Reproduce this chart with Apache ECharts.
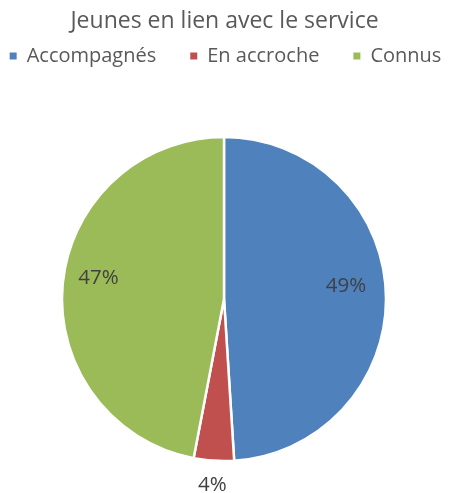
<!DOCTYPE html>
<html>
<head>
<meta charset="utf-8">
<script src="https://cdn.jsdelivr.net/npm/echarts@6/dist/echarts.min.js"></script>
<style>
  html, body { margin: 0; padding: 0; background: #fff; }
  #chart { width: 449px; height: 493px; }
</style>
</head>
<body>
<div id="chart"></div>
<script>
'use strict';

// chart data
let categories = ['Accompagnés', 'En accroche', 'Connus'];
let values = [49, 4, 47];
let colors = ['#4F81BD', '#C0504D', '#9BBB59'];

let fontFamily = '"Open Sans", "Noto Sans", sans-serif';
let center = ['224', '299'];
let pieData = categories.map(function(name, i){
    return { name: name, value: values[i], itemStyle: { color: colors[i] } };
});

// transparent copies used only to place the percentage labels
let labelData = function(showIdx){
    return categories.map(function(name, i){
        return {
            name: name, value: values[i],
            itemStyle: { color: 'rgba(0,0,0,0)' },
            label: { show: showIdx.indexOf(i) >= 0 }
        };
    });
};
let labelStyle = {
    position: 'inside',
    formatter: '{d}%',
    color: '#404040',
    fontSize: 20.5,
    fontFamily: fontFamily
};

let myChart = echarts.init(document.getElementById('chart'));
let option = {
    backgroundColor: '#fff',
    title: {
        text: 'Jeunes en lien avec le service',
        left: 'center',
        top: 5,
        textStyle: { color: '#595959', fontSize: 23, fontWeight: 'normal', fontFamily: fontFamily }
    },
    legend: {
        data: categories,
        top: 46,
        left: 'center',
        width: 449,
        padding: 0,
        icon: 'rect',
        itemWidth: 9,
        itemHeight: 9,
        itemGap: 32,
        textStyle: { color: '#595959', fontSize: 20, fontFamily: fontFamily, padding: [0, 0, 0, 4] }
    },
    series: [
        {
            type: 'pie',
            center: center,
            radius: [0, 162],
            startAngle: 90,
            silent: true,
            label: { show: false },
            labelLine: { show: false },
            itemStyle: { borderColor: '#fff', borderWidth: 2.5 },
            data: pieData
        },
        {
            type: 'pie',
            center: center,
            radius: [0, 242],
            startAngle: 90,
            silent: true,
            label: Object.assign({}, labelStyle, { offset: [-2, -9] }),
            labelLine: { show: false },
            data: labelData([0, 2])
        },
        {
            type: 'pie',
            center: center,
            radius: [0, 368],
            startAngle: 90,
            silent: true,
            label: labelStyle,
            labelLine: { show: false },
            data: labelData([1])
        }
    ]
};
myChart.setOption(option);
</script>
</body>
</html>
